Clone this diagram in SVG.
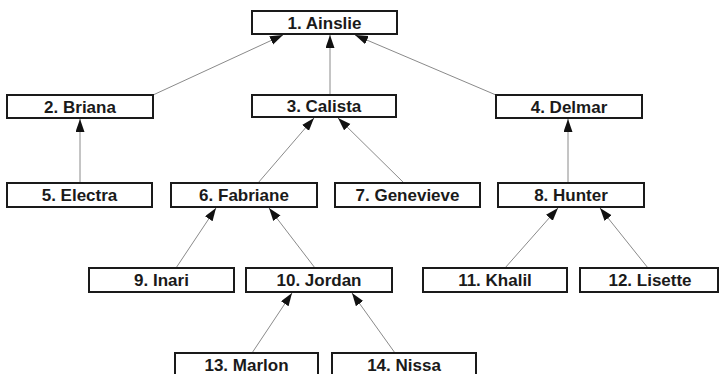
<svg xmlns="http://www.w3.org/2000/svg" width="719" height="374" viewBox="0 0 719 374">
<style>
.box{fill:#fff;stroke:#1a1a1a;stroke-width:2}
.lbl{font-family:"Liberation Sans",Arial,sans-serif;font-weight:bold;font-size:17px;fill:#1a1a1a;text-anchor:middle}
.edge{stroke:#8a8a8a;stroke-width:1;fill:none;marker-end:url(#ah)}
</style>
<defs>
<marker id="ah" markerUnits="userSpaceOnUse" markerWidth="14" markerHeight="10" refX="13" refY="4.5" orient="auto">
<path d="M0,0 L13,4.5 L0,9 Z" fill="#111"/>
</marker>
</defs>
<rect width="719" height="374" fill="#fff"/>
<g id="connectors">
<line class="edge" x1="153" y1="95" x2="283" y2="35"/>
<line class="edge" x1="330" y1="95" x2="330" y2="35"/>
<line class="edge" x1="496" y1="95" x2="355" y2="35"/>
<line class="edge" x1="80" y1="183" x2="80" y2="119"/>
<line class="edge" x1="258" y1="183" x2="314" y2="118"/>
<line class="edge" x1="404" y1="183" x2="338" y2="118"/>
<line class="edge" x1="568" y1="183" x2="568" y2="119"/>
<line class="edge" x1="176" y1="268" x2="216" y2="208"/>
<line class="edge" x1="315" y1="268" x2="269" y2="208"/>
<line class="edge" x1="505" y1="268" x2="558" y2="208"/>
<line class="edge" x1="648" y1="268" x2="600" y2="208"/>
<line class="edge" x1="252" y1="353" x2="292" y2="293"/>
<line class="edge" x1="395" y1="353" x2="352" y2="293"/>
</g>
<g id="n1"><rect class="box" x="252" y="11" width="145" height="23"/><text class="lbl" x="324.5" y="28.5">1. Ainslie</text></g>
<g id="n2"><rect class="box" x="7" y="95" width="146" height="23"/><text class="lbl" x="80" y="112.5">2. Briana</text></g>
<g id="n3"><rect class="box" x="252" y="95" width="144" height="22"/><text class="lbl" x="324" y="112">3. Calista</text></g>
<g id="n4"><rect class="box" x="496" y="95" width="146" height="23"/><text class="lbl" x="569" y="112.5">4. Delmar</text></g>
<g id="n5"><rect class="box" x="7" y="183" width="145" height="24"/><text class="lbl" x="79.5" y="201">5. Electra</text></g>
<g id="n6"><rect class="box" x="171" y="183" width="146" height="24"/><text class="lbl" x="244" y="201">6. Fabriane</text></g>
<g id="n7"><rect class="box" x="335" y="183" width="145" height="24"/><text class="lbl" x="407.5" y="201">7. Genevieve</text></g>
<g id="n8"><rect class="box" x="498" y="183" width="146" height="24"/><text class="lbl" x="571" y="201">8. Hunter</text></g>
<g id="n9"><rect class="box" x="89" y="268" width="145" height="24"/><text class="lbl" x="161.5" y="286">9. Inari</text></g>
<g id="n10"><rect class="box" x="246" y="268" width="146" height="24"/><text class="lbl" x="319" y="286">10. Jordan</text></g>
<g id="n11"><rect class="box" x="423" y="268" width="144" height="24"/><text class="lbl" x="495" y="286">11. Khalil</text></g>
<g id="n12"><rect class="box" x="580" y="268" width="138" height="24"/><text class="lbl" x="650" y="286">12. Lisette</text></g>
<g id="n13"><rect class="box" x="175" y="353" width="143" height="24"/><text class="lbl" x="246.5" y="371">13. Marlon</text></g>
<g id="n14"><rect class="box" x="332" y="353" width="144" height="24"/><text class="lbl" x="404" y="371">14. Nissa</text></g>
</svg>
